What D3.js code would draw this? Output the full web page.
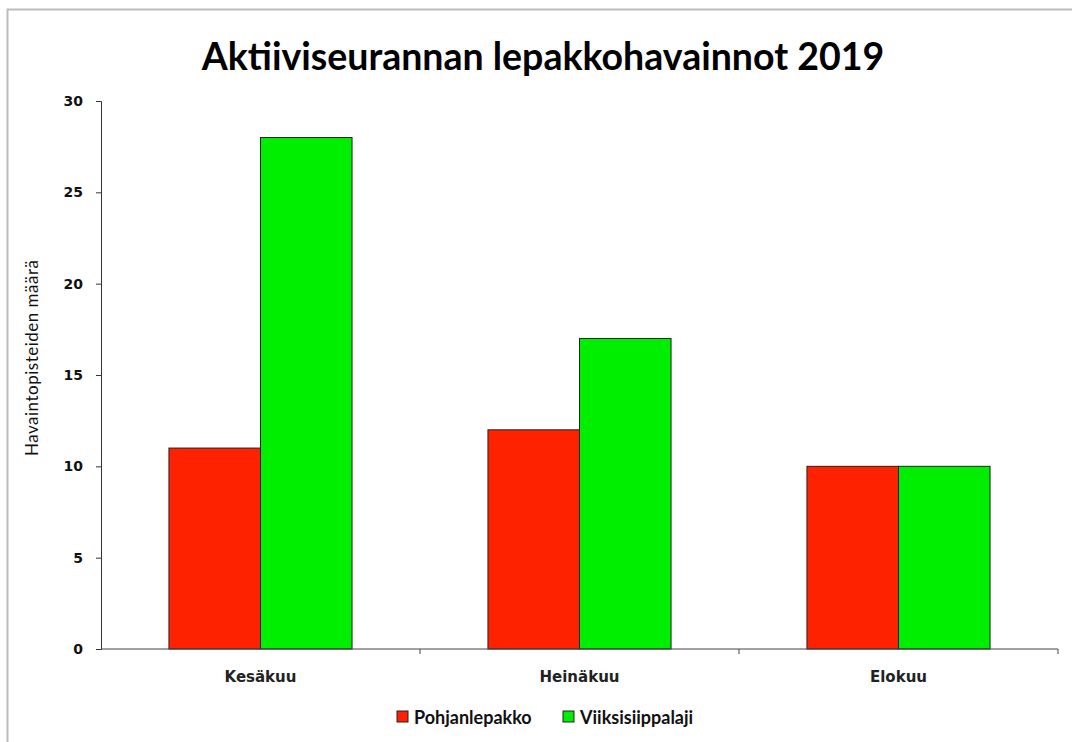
<!DOCTYPE html>
<html>
<head>
<meta charset="utf-8">
<script src="https://cdn.jsdelivr.net/npm/d3@7"></script>
<style>
  body { margin: 0; background: #fff; }
</style>
</head>
<body>
<script>
const months = ["Kesäkuu", "Heinäkuu", "Elokuu"];
const seriesNames = ["Pohjanlepakko", "Viiksisiippalaji"];
const pohjanlepakko = [11, 12, 10];
const viiksisiippalaji = [28, 17, 10];
const yTicks = [0, 5, 10, 15, 20, 25, 30];
const colors = ["#ff2200", "#00ee00"];

const width = 1072, height = 742;
const margin = {top: 101, right: 14, bottom: 93, left: 101};

const svg = d3.select("body").append("svg")
    .attr("width", width)
    .attr("height", height);

// outer frame
svg.append("path")
    .attr("d", `M7.5,${height} V9.5 H${width}`)
    .attr("fill", "none")
    .attr("stroke", "#bbb")
    .attr("stroke-width", 2);

const x = d3.scaleBand()
    .domain(months)
    .range([margin.left, width - margin.right])
    .paddingInner(0.426)
    .paddingOuter(0.213);

const xs = d3.scaleBand()
    .domain(seriesNames)
    .range([0, x.bandwidth()]);

const y = d3.scaleLinear()
    .domain([0, 30])
    .range([height - margin.bottom, margin.top]);

svg.append("text")
    .attr("x", 543)
    .attr("y", 70)
    .attr("text-anchor", "middle")
    .attr("font-family", "Lato, sans-serif")
    .attr("font-weight", "bold")
    .attr("font-size", 37.5)
    .text("Aktiiviseurannan lepakkohavainnot 2019");

const data = months.map((m, i) => ({month: m, values: [pohjanlepakko[i], viiksisiippalaji[i]]}));

svg.append("g")
  .selectAll("g")
  .data(data)
  .join("g")
    .attr("transform", d => `translate(${x(d.month)},0)`)
  .selectAll("rect")
  .data(d => d.values.map((v, j) => ({name: seriesNames[j], value: v, j})))
  .join("rect")
    .attr("x", d => xs(d.name))
    .attr("y", d => y(d.value))
    .attr("width", xs.bandwidth())
    .attr("height", d => y(0) - y(d.value))
    .attr("fill", d => colors[d.j])
    .attr("stroke", "#222")
    .attr("stroke-width", 1);

// y axis
const yAxis = svg.append("g")
    .attr("transform", `translate(${margin.left},0)`)
    .call(d3.axisLeft(y).tickValues(yTicks).tickSize(5).tickPadding(13));
yAxis.selectAll("path, line").attr("stroke", "#333");
yAxis.selectAll("text")
    .attr("font-family", "DejaVu Sans, Verdana, sans-serif")
    .attr("font-weight", "bold")
    .attr("font-size", 14)
    .attr("fill", "#111");

// x axis with ticks at band boundaries
const xAxis = svg.append("g")
    .attr("transform", `translate(0,${y(0)})`);
xAxis.append("line")
    .attr("x1", margin.left).attr("x2", width - margin.right)
    .attr("stroke", "#444");
const bounds = months.slice(1).map(m => x(m) - x.step() * x.paddingInner() / 2)
    .concat([width - margin.right]);
xAxis.selectAll(".tk")
  .data(bounds)
  .join("line")
    .attr("x1", d => d).attr("x2", d => d)
    .attr("y1", 0).attr("y2", 5)
    .attr("stroke", "#444");
xAxis.selectAll(".lbl")
  .data(months)
  .join("text")
    .attr("x", d => x(d) + x.bandwidth() / 2)
    .attr("y", 33)
    .attr("text-anchor", "middle")
    .attr("font-family", "DejaVu Sans, Verdana, sans-serif")
    .attr("font-weight", "bold")
    .attr("font-size", 15)
    .attr("fill", "#222")
    .text(d => d);

// y axis title
svg.append("text")
    .attr("transform", `translate(38,358) rotate(-90)`)
    .attr("text-anchor", "middle")
    .attr("font-family", "Lato, sans-serif")
    .attr("font-size", 17)
    .attr("textLength", 196)
    .attr("lengthAdjust", "spacing")
    .attr("fill", "#111")
    .text("Havaintopisteiden määrä");

// legend
const legendX = [397, 563];
const legend = svg.append("g")
  .selectAll("g")
  .data(seriesNames)
  .join("g")
    .attr("transform", (d, i) => `translate(${legendX[i]},711)`);
legend.append("rect")
    .attr("width", 11).attr("height", 11)
    .attr("fill", (d, i) => colors[i])
    .attr("stroke", "#222");
legend.append("text")
    .attr("x", 17)
    .attr("y", 13)
    .attr("font-family", "Lato, sans-serif")
    .attr("font-weight", "bold")
    .attr("font-size", 18)
    .attr("fill", "#111")
    .text(d => d);
</script>
</body>
</html>
